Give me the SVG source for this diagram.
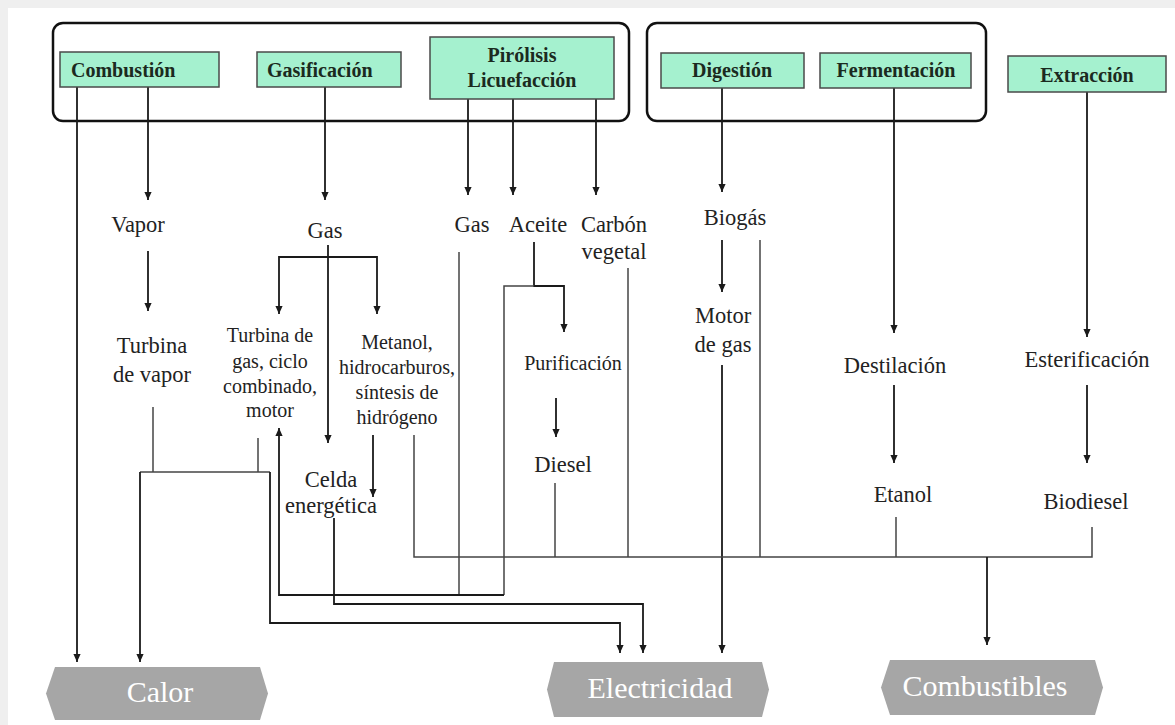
<svg xmlns="http://www.w3.org/2000/svg" width="1175" height="725" viewBox="0 0 1175 725">
  <style>
    .frame { fill: none; stroke: #111; stroke-width: 2.5; }
    .proc { fill: #a5f1cf; stroke: #4a4a4a; stroke-width: 1.5; }
    .proc-t { font-family: "Liberation Serif", "Times New Roman", serif; font-weight: bold; font-size: 20px; fill: #1b2a20; }
    .lbl { font-family: "Liberation Serif", "Times New Roman", serif; font-size: 22.5px; fill: #222; text-anchor: middle; }
    .sm { font-size: 20px; }
    .out { fill: #a6a6a6; }
    .out-t { font-family: "Liberation Serif", "Times New Roman", serif; font-size: 30px; fill: #fff; text-anchor: middle; }
    .arr { fill: none; stroke: #1a1a1a; stroke-width: 1.8; marker-end: url(#ah); }
    .ln { fill: none; stroke: #444; stroke-width: 1.5; }
  </style>
  <defs>
    <marker id="ah" viewBox="0 0 10 10" refX="10" refY="5" markerWidth="9" markerHeight="8" markerUnits="userSpaceOnUse" orient="auto">
      <path d="M0,0.5 L10,5 L0,9.5 z" fill="#1a1a1a"/>
    </marker>
  </defs>

  <!-- page -->
  <rect x="0" y="0" width="1175" height="725" fill="#efefef"/>
  <rect x="8" y="8" width="1167" height="717" fill="#ffffff"/>

  <!-- thermochemical and biochemical groupings -->
  <rect class="frame" x="53" y="23" width="576" height="98" rx="10"/>
  <rect class="frame" x="647" y="23" width="339" height="98" rx="10"/>

  <!-- connectors -->
  <g id="connectors">
    <!-- from processes -->
    <path class="arr" d="M77,87 V662"/>
    <path class="arr" d="M148,87 V200"/>
    <path class="arr" d="M325,87 V200"/>
    <path class="arr" d="M468,99 V195"/>
    <path class="arr" d="M513,99 V195"/>
    <path class="arr" d="M596,99 V195"/>
    <path class="arr" d="M722,88 V192"/>
    <path class="arr" d="M894,88 V333"/>
    <path class="arr" d="M1087,92 V337"/>

    <!-- steam -->
    <path class="arr" d="M148,251 V311"/>
    <!-- syngas -->
    <path class="arr" d="M328,245 V443"/>
    <path class="arr" d="M328,257 H279 V314"/>
    <path class="arr" d="M328,257 H377 V314"/>
    <path class="arr" d="M373,435 V497"/>
    <!-- oil -->
    <path class="arr" d="M534,242 V286 H564 V332"/>
    <path class="ln" d="M534,286 H504 V595"/>
    <path class="arr" d="M556,398 V437"/>
    <!-- biogas -->
    <path class="arr" d="M722,240 V292"/>
    <path class="arr" d="M722,365 V653"/>
    <!-- ethanol / biodiesel chains -->
    <path class="arr" d="M894,385 V463"/>
    <path class="arr" d="M1087,385 V463"/>

    <!-- pyrolysis gas and oil feed the gas turbine -->
    <path class="ln" d="M459,252 V595"/>
    <path class="arr" d="M504,595 H279 V428"/>

    <!-- heat collector -->
    <path class="ln" d="M153,407 V472"/>
    <path class="ln" d="M258,438 V472"/>
    <path class="ln" d="M140,472 H270"/>
    <path class="arr" d="M140,472 V662"/>
    <path class="arr" d="M270,472 V623 H620 V653"/>

    <!-- fuel cell to electricity -->
    <path class="arr" d="M334,518 V604 H643 V653"/>

    <!-- fuels bus -->
    <path class="ln" d="M414,435 V557 H1092 V527"/>
    <path class="ln" d="M555,483 V557"/>
    <path class="ln" d="M628,268 V557"/>
    <path class="ln" d="M760,240 V557"/>
    <path class="ln" d="M896,517 V557"/>
    <path class="arr" d="M987,557 V645"/>
  </g>

  <!-- conversion processes -->
  <g id="combustion">
    <rect class="proc" x="60" y="52" width="159" height="35"/>
    <text class="proc-t" x="71" y="77">Combustión</text>
  </g>
  <g id="gasificacion">
    <rect class="proc" x="257" y="52" width="144" height="35"/>
    <text class="proc-t" x="267" y="77">Gasificación</text>
  </g>
  <g id="pirolisis">
    <rect class="proc" x="430" y="37" width="184" height="62"/>
    <text class="proc-t" x="522" y="62" text-anchor="middle">Pirólisis</text>
    <text class="proc-t" x="522" y="87" text-anchor="middle">Licuefacción</text>
  </g>
  <g id="digestion">
    <rect class="proc" x="661" y="53" width="143" height="35"/>
    <text class="proc-t" x="732" y="77" text-anchor="middle">Digestión</text>
  </g>
  <g id="fermentacion">
    <rect class="proc" x="820" y="53" width="151" height="35"/>
    <text class="proc-t" x="896" y="77" text-anchor="middle">Fermentación</text>
  </g>
  <g id="extraccion">
    <rect class="proc" x="1008" y="56" width="158" height="36"/>
    <text class="proc-t" x="1087" y="82" text-anchor="middle">Extracción</text>
  </g>

  <!-- intermediate products and equipment -->
  <g id="vapor"><text class="lbl" x="138" y="232">Vapor</text></g>
  <g id="gas-gasif"><text class="lbl" x="325" y="238">Gas</text></g>
  <g id="turbina-vapor">
    <text class="lbl" x="152" y="353">Turbina</text>
    <text class="lbl" x="152" y="382">de vapor</text>
  </g>
  <g id="turbina-gas">
    <text class="lbl sm" x="270" y="342">Turbina de</text>
    <text class="lbl sm" x="270" y="368">gas, ciclo</text>
    <text class="lbl sm" x="270" y="393">combinado,</text>
    <text class="lbl sm" x="270" y="417">motor</text>
  </g>
  <g id="metanol">
    <text class="lbl sm" x="397" y="349">Metanol,</text>
    <text class="lbl sm" x="397" y="374">hidrocarburos,</text>
    <text class="lbl sm" x="397" y="399">síntesis de</text>
    <text class="lbl sm" x="397" y="424">hidrógeno</text>
  </g>
  <g id="celda">
    <text class="lbl" x="331" y="487">Celda</text>
    <text class="lbl" x="331" y="513">energética</text>
  </g>
  <g id="gas-pirolisis"><text class="lbl" x="472" y="232">Gas</text></g>
  <g id="aceite"><text class="lbl" x="538" y="232">Aceite</text></g>
  <g id="carbon">
    <text class="lbl" x="614" y="232">Carbón</text>
    <text class="lbl" x="614" y="259">vegetal</text>
  </g>
  <g id="purificacion"><text class="lbl sm" x="573" y="370">Purificación</text></g>
  <g id="diesel"><text class="lbl" x="563" y="472">Diesel</text></g>
  <g id="biogas"><text class="lbl" x="735" y="225">Biogás</text></g>
  <g id="motor-gas">
    <text class="lbl" x="723" y="323">Motor</text>
    <text class="lbl" x="723" y="352">de gas</text>
  </g>
  <g id="destilacion"><text class="lbl" x="895" y="373">Destilación</text></g>
  <g id="etanol"><text class="lbl" x="903" y="502">Etanol</text></g>
  <g id="esterificacion"><text class="lbl" x="1087" y="367">Esterificación</text></g>
  <g id="biodiesel"><text class="lbl" x="1086" y="509">Biodiesel</text></g>

  <!-- final energy carriers -->
  <g id="calor">
    <polygon class="out" points="55,667 260,667 268,693.5 260,720 55,720 46,693.5"/>
    <text class="out-t" x="160" y="702">Calor</text>
  </g>
  <g id="electricidad">
    <polygon class="out" points="554,662 762,662 769,689.5 762,717 554,717 547,689.5"/>
    <text class="out-t" x="660" y="698">Electricidad</text>
  </g>
  <g id="combustibles">
    <polygon class="out" points="890,660 1095,660 1103,687.5 1095,715 890,715 881,687.5"/>
    <text class="out-t" x="985" y="696">Combustibles</text>
  </g>
</svg>
